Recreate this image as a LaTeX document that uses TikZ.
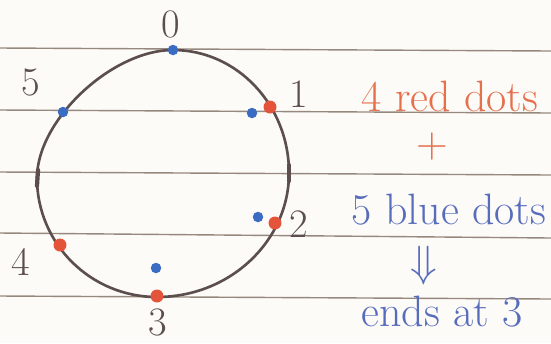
\documentclass[tikz,border=0pt]{standalone}
\usepackage{amssymb}
\definecolor{paper}{RGB}{252,251,248}
\definecolor{ruleline}{RGB}{150,136,126}
\definecolor{pencil}{RGB}{92,78,76}
\definecolor{redpen}{RGB}{228,84,58}
\definecolor{bluepen}{RGB}{58,108,196}
\definecolor{redink}{RGB}{230,112,76}
\definecolor{blueink}{RGB}{88,108,188}
\tikzset{
  ruled/.style={draw=ruleline, line width=0.8pt},
  rim/.style={draw=pencil, line width=1.5pt},
  reddot/.style={circle, fill=redpen, inner sep=0pt, minimum size=0.26cm},
  bluedot/.style={circle, fill=bluepen, inner sep=0pt, minimum size=0.21cm},
  digit/.style={text=pencil, inner sep=0pt, font=\fontsize{23}{27}\selectfont},
  note/.style={anchor=base, inner sep=0pt, font=\fontsize{25}{30}\selectfont}
}
\begin{document}
\begin{tikzpicture}[x=0.02cm, y=-0.02cm, line cap=round, line join=round]
    % Sheet of lined paper, 551 x 343 px in the source.
    \fill[paper] (0,0) rectangle (551,343);
    \useasboundingbox (0,0) rectangle (551,343);
    \draw[ruled] (0,48) -- (551,51);
    \draw[ruled] (0,110) -- (551,113);
    \draw[ruled] (0,172) -- (551,175);
    \draw[ruled] (0,233) -- (551,238);
    \draw[ruled] (0,296) -- (551,299);
    % The hand-drawn circle: four quarter arcs, top -> right -> bottom -> left.
    \draw[rim] (173,50) .. controls (237,50) and (289,105) .. (289,173)
      .. controls (289,241) and (230,297) .. (157,297)
      .. controls (91,297) and (37,244) .. (37,178)
      .. controls (37,120) and (112,50) .. (173,50) -- cycle;
    \draw[pencil, line width=2.4pt] (38,170) -- (37,186);
    \draw[pencil, line width=2.4pt] (289,165) -- (289,181);
    % Dots on and inside the circle.
    \node[bluedot] (b0) at (173,50) {};
    \node[reddot] (r1) at (270,107) {};
    \node[bluedot] (b1) at (252,113) {};
    \node[bluedot] (b5) at (63,112) {};
    \node[reddot] (r2) at (275,223) {};
    \node[bluedot] (b2) at (258,217) {};
    \node[reddot] (r4) at (60,245) {};
    \node[bluedot] (b3) at (156,268) {};
    \node[reddot] (r3) at (157,296) {};
    % Position numbers round the circle.
    \node[digit] (n0) at (171,24) {0};
    \node[digit] (n1) at (299,94) {1};
    \node[digit] (n2) at (299,224) {2};
    \node[digit] (n3) at (158,322) {3};
    \node[digit] (n4) at (21,262) {4};
    \node[digit] (n5) at (31,82) {5};
    % The sum written to the right.
    \node[note, text=redink] (red) at (450,111) {4 red dots};
    \node[note, text=redink, anchor=center] (plus) at (432,147) {+};
    \node[note, text=blueink] (blue) at (449,224) {5 blue dots};
    \node[text=blueink, inner sep=0pt, font=\fontsize{38}{42}\selectfont] (then) at (424,266) {$\Downarrow$};
    \node[note, text=blueink] (ends) at (442,326) {ends at 3};
\end{tikzpicture}
\end{document}
